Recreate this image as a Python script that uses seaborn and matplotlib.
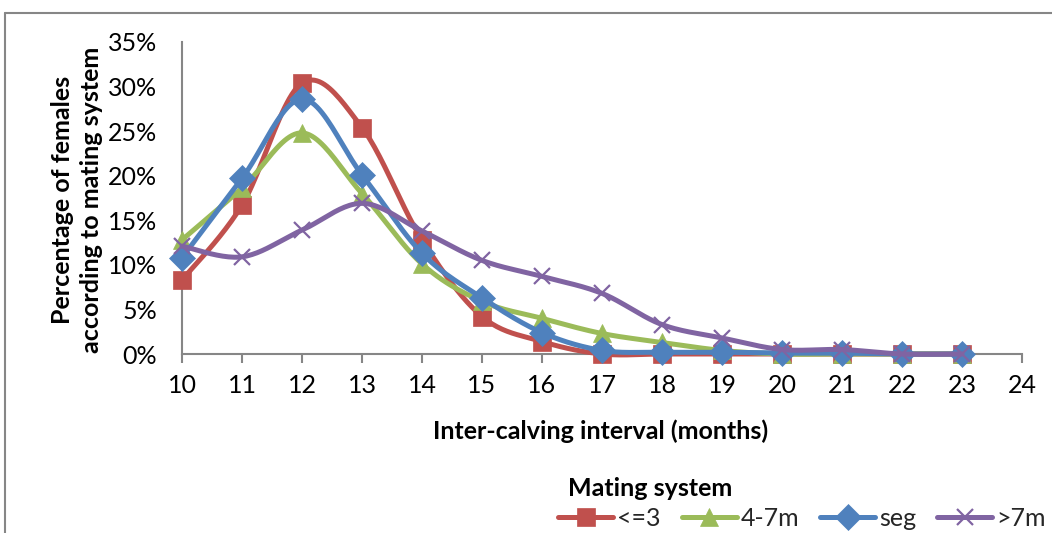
import numpy as np
import pandas as pd
import matplotlib
matplotlib.use("Agg")
import matplotlib.pyplot as plt
import seaborn as sns
from matplotlib.lines import Line2D
from matplotlib.ticker import PercentFormatter, MultipleLocator

# ---------------- data ----------------
months = [10, 11, 12, 13, 14, 15, 16, 17, 18, 19, 20, 21, 22, 23]
le3 = [0.083, 0.167, 0.304, 0.254, 0.128, 0.042, 0.014, 0.0, 0.0, 0.0, 0.0, 0.0, 0.0, 0.0]
m4_7 = [0.128, 0.186, 0.248, 0.180, 0.101, 0.059, 0.040, 0.023, 0.013, 0.004, 0.0, 0.0, 0.0, 0.0]
seg = [0.108, 0.197, 0.286, 0.201, 0.113, 0.063, 0.024, 0.004, 0.002, 0.002, 0.001, 0.001, 0.0, 0.0]
gt7 = [0.121, 0.109, 0.139, 0.169, 0.138, 0.105, 0.087, 0.068, 0.033, 0.018, 0.005, 0.005, 0.0, 0.0]
series_names = ["<=3", "4-7m", "seg", ">7m"]
series_values = [le3, m4_7, seg, gt7]
xtick_labels = [str(v) for v in range(10, 25)]

colors = ["#C0504D", "#9BBB59", "#4F81BD", "#8064A2"]
markers = ["s", "^", "D", "x"]
msizes = [13, 13, 13, 12]

FONT = "Lato"
FS = 18


def smooth(x, y, n=24):
    """Excel-like smoothed line (Catmull-Rom Bezier)."""
    x = np.asarray(x, float)
    y = np.asarray(y, float)
    P = np.column_stack([x, y])
    out = []
    for i in range(len(P) - 1):
        p0 = P[i - 1] if i > 0 else P[i]
        p1 = P[i]
        p2 = P[i + 1]
        p3 = P[i + 2] if i + 2 < len(P) else P[i + 1]
        c1 = p1 + (p2 - p0) / 6.0
        c2 = p2 - (p3 - p1) / 6.0
        t = np.linspace(0, 1, n, endpoint=False)[:, None]
        b = ((1 - t) ** 3) * p1 + 3 * ((1 - t) ** 2) * t * c1 + 3 * (1 - t) * t ** 2 * c2 + t ** 3 * p2
        out.append(b)
    out.append(P[-1:])
    B = np.vstack(out)
    return B[:, 0], B[:, 1]


sns.set_theme(style="white")
plt.rcParams["font.family"] = [FONT, "DejaVu Sans"]

W, H = 1052, 533
fig = plt.figure(figsize=(W / 100, H / 100), dpi=100)
ax_left, ax_right, ax_top, ax_bottom = 182, 1022, 42, 354
ax = fig.add_axes([ax_left / W, 1 - ax_bottom / H, (ax_right - ax_left) / W, (ax_bottom - ax_top) / H])

for k, (name, vals) in enumerate(zip(series_names, series_values)):
    sx, sy = smooth(months, vals)
    df = pd.DataFrame({"x": sx, "y": sy})
    sns.lineplot(data=df, x="x", y="y", sort=False, estimator=None, color=colors[k],
                 lw=3.6, ax=ax, zorder=3 + 2 * k, legend=False)
    ax.lines[-1].set_clip_on(False)
    ax.plot(months, vals, ls="none", marker=markers[k], ms=msizes[k], color=colors[k],
            mec=colors[k], mew=1.6 if markers[k] == "x" else 0.5, zorder=4 + 2 * k, clip_on=False)

ax.set_xlim(10, 24)
ax.set_ylim(0, 0.35)
ax.set_xticks(range(10, 25))
ax.set_xticklabels(xtick_labels)
ax.yaxis.set_major_locator(MultipleLocator(0.05))
ax.yaxis.set_major_formatter(PercentFormatter(1.0, decimals=0))
ax.set_xlabel("")
ax.set_ylabel("")

for s in ["top", "right"]:
    ax.spines[s].set_visible(False)
for s in ["left", "bottom"]:
    ax.spines[s].set_color("#868686")
    ax.spines[s].set_linewidth(1.5)

ax.tick_params(axis="x", direction="out", length=6.5, width=1.5, color="#868686",
               labelsize=FS, pad=8, bottom=True)
ax.tick_params(axis="y", length=0, labelsize=FS, pad=18, left=False)
for lab in ax.get_xticklabels() + ax.get_yticklabels():
    lab.set_color("#000000")

# axis titles
fig.text(601 / W, 1 - 431 / H, "Inter-calving interval (months)", ha="center", va="center",
         fontsize=FS, fontweight="bold", color="black")
fig.text(63 / W, 1 - 200 / H, "Percentage of females", ha="center", va="center",
         rotation=90, fontsize=FS, fontweight="bold", color="black")
fig.text(92 / W, 1 - 200 / H, "according to mating system", ha="center", va="center",
         rotation=90, fontsize=FS, fontweight="bold", color="black")

# legend
handles = [Line2D([0], [0], color=colors[k], lw=3.6, marker=markers[k], ms=msizes[k],
                  mew=1.6 if markers[k] == "x" else 0.5, mec=colors[k])
           for k in range(4)]
leg = fig.legend(handles, series_names, loc="center left", bbox_to_anchor=(558 / W, 1 - 518 / H),
                 ncol=4, frameon=False, fontsize=FS, handlelength=2.2, handletextpad=0.15,
                 columnspacing=0.85, borderpad=0, borderaxespad=0)
fig.text(650 / W, 1 - 488 / H, "Mating system", ha="center", va="center",
         fontsize=FS, fontweight="bold", color="black")

# outer chart border (clipped by image edges)
fig.add_artist(Line2D([5 / W, 1.0], [1 - 13 / H, 1 - 13 / H], transform=fig.transFigure,
                      color="#868686", lw=1.5))
fig.add_artist(Line2D([5 / W, 5 / W], [0.0, 1 - 13 / H], transform=fig.transFigure,
                      color="#868686", lw=1.5))

fig.savefig("out.png", dpi=100)
